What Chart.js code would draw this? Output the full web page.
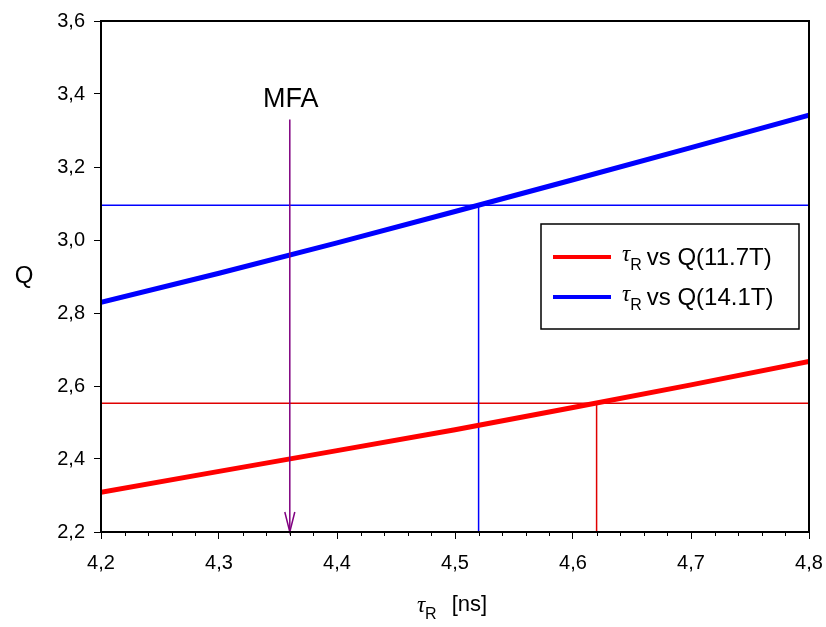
<!DOCTYPE html>
<html>
<head>
<meta charset="utf-8">
<script src="https://cdn.jsdelivr.net/npm/chart.js@4/dist/chart.umd.min.js"></script>
<style>
  body { margin: 0; background: #fff; }
</style>
</head>
<body>
<canvas id="qChart" width="826" height="627"></canvas>
<script>
// Datos: tiempo de correlación vs factor Q
const tauR = [4.2, 4.3, 4.4, 4.5, 4.6, 4.7, 4.8];
const q117 = [2.309, 2.366, 2.423, 2.480, 2.541, 2.603, 2.667];
const q141 = [2.829, 2.909, 2.992, 3.078, 3.165, 3.253, 3.342];
const seriesNames = ['vs Q(11.7T)', 'vs Q(14.1T)'];

// Lecturas marcadas sobre cada curva
const cross117 = [4.62, 2.553];
const cross141 = [4.52, 3.095];
const mfaTau = 4.36;
const mfaTop = 3.33;
const mfaLabel = 'MFA';

// Ejes
const xRange = [4.2, 4.8];
const yRange = [2.2, 3.6];
const xMajor = 0.1;
const xMinor = 0.02;
const yStep = 0.2;

const RED = '#ff0000';
const BLUE = '#0000ff';
const PURPLE = '#800080';
const SANS = '"Liberation Sans", Arial, sans-serif';
const SERIF = '"Liberation Serif", "Times New Roman", serif';

Chart.defaults.font.family = 'Liberation Sans';
Chart.defaults.color = '#000';

const pts = (xs, ys) => xs.map((x, i) => ({ x: x, y: ys[i] }));
const fmt = v => v.toFixed(1).replace('.', ',');

// Flecha, etiqueta MFA, marco, ticks menores, títulos y leyenda
const extras = {
  id: 'extras',
  afterDatasetsDraw(chart) {
    const { ctx, scales: { x, y } } = chart;
    const px = x.getPixelForValue(mfaTau);
    const pBottom = y.getPixelForValue(yRange[0]);
    const pTop = y.getPixelForValue(mfaTop);
    ctx.save();
    ctx.strokeStyle = PURPLE;
    ctx.lineWidth = 1.5;
    ctx.beginPath();
    ctx.moveTo(px - 5, pBottom - 20);
    ctx.lineTo(px, pBottom);
    ctx.lineTo(px + 5, pBottom - 20);
    ctx.stroke();
    ctx.fillStyle = '#000';
    ctx.font = '27px ' + SANS;
    ctx.textAlign = 'center';
    ctx.textBaseline = 'alphabetic';
    ctx.fillText(mfaLabel, px + 1, pTop - 13);
    ctx.restore();
  },
  afterDraw(chart) {
    const { ctx, chartArea: a, scales: { x, y } } = chart;
    ctx.save();

    // marco
    ctx.strokeStyle = '#000';
    ctx.lineWidth = 2;
    ctx.strokeRect(a.left, a.top, a.right - a.left, a.bottom - a.top);

    // ticks menores del eje x
    ctx.lineWidth = 1;
    ctx.beginPath();
    const n = Math.round((xRange[1] - xRange[0]) / xMinor);
    for (let i = 0; i <= n; i++) {
      if (i % Math.round(xMajor / xMinor) === 0) continue;
      const px = Math.round(x.getPixelForValue(xRange[0] + i * xMinor)) + 0.5;
      ctx.moveTo(px, a.bottom);
      ctx.lineTo(px, a.bottom + 4);
    }
    ctx.stroke();

    // título eje y
    ctx.fillStyle = '#000';
    ctx.font = '24px ' + SANS;
    ctx.textAlign = 'center';
    ctx.textBaseline = 'middle';
    ctx.fillText('Q', 24, (a.top + a.bottom) / 2);

    // título eje x: τR [ns]
    ctx.textAlign = 'left';
    ctx.textBaseline = 'alphabetic';
    const base = 611;
    ctx.font = 'italic 23px ' + SERIF;
    const wTau = ctx.measureText('τ').width;
    ctx.font = '16px ' + SANS;
    const wR = ctx.measureText('R').width;
    ctx.font = '22px ' + SANS;
    const wNs = ctx.measureText('[ns]').width;
    const total = wTau + wR + 15 + wNs;
    let sx = (a.left + a.right) / 2 - total / 2 - 3;
    ctx.font = 'italic 23px ' + SERIF;
    ctx.fillText('τ', sx, base + 1);
    sx += wTau;
    ctx.font = '16px ' + SANS;
    ctx.fillText('R', sx, base + 8);
    sx += wR + 15;
    ctx.font = '22px ' + SANS;
    ctx.fillText('[ns]', sx, base);

    // leyenda
    const box = { l: 541, t: 224, r: 799, b: 329 };
    ctx.lineWidth = 1.5;
    ctx.strokeRect(box.l, box.t, box.r - box.l, box.b - box.t);
    const rows = [
      { color: RED, name: seriesNames[0], yy: 257 },
      { color: BLUE, name: seriesNames[1], yy: 297 }
    ];
    rows.forEach(r => {
      ctx.strokeStyle = r.color;
      ctx.lineWidth = 4;
      ctx.beginPath();
      ctx.moveTo(553, r.yy);
      ctx.lineTo(611, r.yy);
      ctx.stroke();
      let tx = 622;
      ctx.fillStyle = '#000';
      ctx.font = 'italic 23px ' + SERIF;
      ctx.fillText('τ', tx, r.yy + 4);
      tx += ctx.measureText('τ').width;
      ctx.font = '16px ' + SANS;
      ctx.fillText('R', tx, r.yy + 13);
      tx += ctx.measureText('R').width + 5;
      ctx.font = '24px ' + SANS;
      ctx.fillText(r.name, tx, r.yy + 8);
    });
    ctx.restore();
  }
};

const ctxQ = document.getElementById('qChart').getContext('2d');
const qChart = new Chart(ctxQ, {
  type: 'scatter',
  data: {
    datasets: [
      {
        label: 'MFA',
        data: [{ x: mfaTau, y: mfaTop }, { x: mfaTau, y: yRange[0] }],
        borderColor: PURPLE,
        borderWidth: 1.5,
        showLine: true,
        pointRadius: 0,
        order: 0
      },
      {
        label: 'τR vs Q(14.1T)',
        data: pts(tauR, q141),
        borderColor: BLUE,
        borderWidth: 5,
        showLine: true,
        pointRadius: 0,
        order: 1
      },
      {
        label: 'τR vs Q(11.7T)',
        data: pts(tauR, q117),
        borderColor: RED,
        borderWidth: 5,
        showLine: true,
        pointRadius: 0,
        order: 2
      },
      {
        label: 'ref 14.1T',
        data: [{ x: xRange[0], y: cross141[1] }, { x: cross141[0], y: cross141[1] }, { x: xRange[1], y: cross141[1] }],
        borderColor: BLUE,
        borderWidth: 1.5,
        showLine: true,
        pointRadius: 0,
        order: 3
      },
      {
        label: 'ref 14.1T v',
        data: [{ x: cross141[0], y: cross141[1] }, { x: cross141[0], y: yRange[0] }],
        borderColor: BLUE,
        borderWidth: 1.5,
        showLine: true,
        pointRadius: 0,
        order: 3
      },
      {
        label: 'ref 11.7T',
        data: [{ x: xRange[0], y: cross117[1] }, { x: xRange[1], y: cross117[1] }],
        borderColor: '#e00000',
        borderWidth: 1.5,
        showLine: true,
        pointRadius: 0,
        order: 3
      },
      {
        label: 'ref 11.7T v',
        data: [{ x: cross117[0], y: cross117[1] }, { x: cross117[0], y: yRange[0] }],
        borderColor: '#e00000',
        borderWidth: 1.5,
        showLine: true,
        pointRadius: 0,
        order: 3
      }
    ]
  },
  options: {
    responsive: false,
    animation: false,
    layout: { padding: { left: 0, top: 21, right: 17, bottom: 0 } },
    plugins: {
      legend: { display: false },
      tooltip: { enabled: false }
    },
    scales: {
      x: {
        type: 'linear',
        min: xRange[0],
        max: xRange[1],
        afterFit: s => { s.height = 95; s.paddingLeft = 0; s.paddingRight = 0; },
        grid: { drawOnChartArea: false, drawTicks: true, tickLength: 7, color: '#000', lineWidth: 1 },
        border: { display: true, color: '#000', width: 2 },
        ticks: {
          stepSize: xMajor,
          padding: 12,
          maxRotation: 0,
          autoSkip: false,
          color: '#000',
          font: { size: 20 },
          callback: v => fmt(v)
        }
      },
      y: {
        type: 'linear',
        min: yRange[0],
        max: yRange[1],
        afterFit: s => { s.width = 101; s.paddingTop = 0; s.paddingBottom = 0; },
        grid: { drawOnChartArea: false, drawTicks: true, tickLength: 7, color: '#000', lineWidth: 1 },
        border: { display: true, color: '#000', width: 2 },
        ticks: {
          stepSize: yStep,
          padding: 9,
          color: '#000',
          font: { size: 20 },
          callback: v => fmt(v)
        }
      }
    }
  },
  plugins: [extras]
});
</script>
</body>
</html>
